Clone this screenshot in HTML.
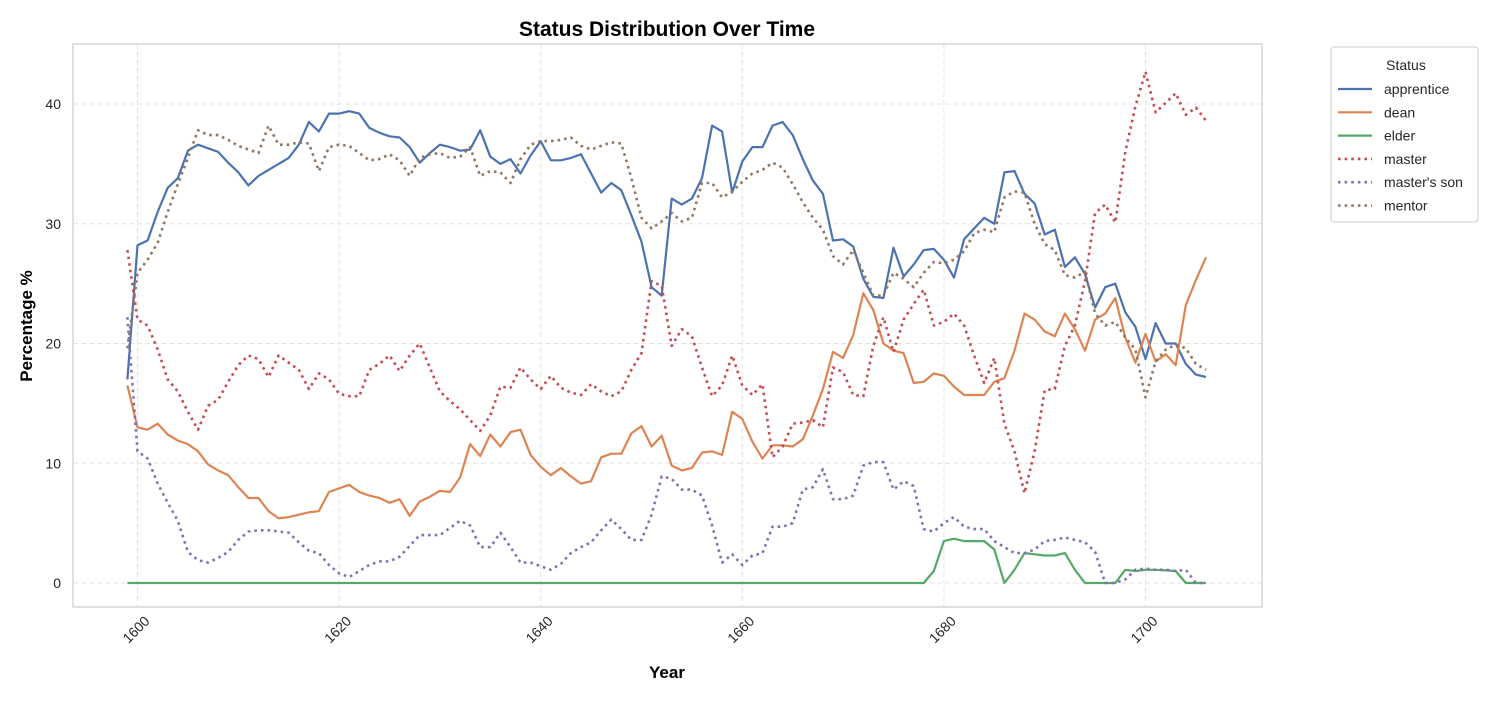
<!DOCTYPE html>
<html><head><meta charset="utf-8"><style>
body{margin:0;background:#fff;}
svg text{font-family:"Liberation Sans","DejaVu Sans",sans-serif;fill:#262626;}
</style></head><body>
<svg id="chart" width="1500" height="700" xmlns="http://www.w3.org/2000/svg">
<rect x="0" y="0" width="1500" height="700" fill="#fff"/>
<text x="667" y="36" text-anchor="middle" font-size="21" font-weight="bold" style="fill:#000">Status Distribution Over Time</text>
<g id="grid"></g>
<g id="axes"></g>
<g id="series"></g>
<rect x="73" y="44" width="1189" height="563" fill="none" stroke="#cccccc" stroke-width="1.2"/>
<text x="667" y="678" text-anchor="middle" font-size="17" font-weight="bold" style="fill:#000">Year</text>
<text transform="translate(32,326) rotate(-90)" text-anchor="middle" font-size="17" font-weight="bold" style="fill:#000">Percentage %</text>
<g id="legend">
<rect x="1331" y="47" width="147" height="175" rx="3" fill="#fff" stroke="#cccccc"/>
<text x="1406" y="70" text-anchor="middle" font-size="14">Status</text>
</g>
</svg>
<script>
const years=[1599,1600,1601,1602,1603,1604,1605,1606,1607,1608,1609,1610,1611,1612,1613,1614,1615,1616,1617,1618,1619,1620,1621,1622,1623,1624,1625,1626,1627,1628,1629,1630,1631,1632,1633,1634,1635,1636,1637,1638,1639,1640,1641,1642,1643,1644,1645,1646,1647,1648,1649,1650,1651,1652,1653,1654,1655,1656,1657,1658,1659,1660,1661,1662,1663,1664,1665,1666,1667,1668,1669,1670,1671,1672,1673,1674,1675,1676,1677,1678,1679,1680,1681,1682,1683,1684,1685,1686,1687,1688,1689,1690,1691,1692,1693,1694,1695,1696,1697,1698,1699,1700,1701,1702,1703,1704,1705,1706];
const apprentice=[17,28.2,28.6,31,33,33.8,36.1,36.6,36.3,36,
35.1,34.3,33.2,34,34.5,35,35.5,36.6,38.5,37.7,
39.2,39.2,39.4,39.2,38,37.6,37.3,37.2,36.4,35.1,
35.9,36.6,36.4,36.1,36.2,37.8,35.6,35,35.4,34.2,
35.7,36.9,35.3,35.3,35.5,35.8,34.2,32.6,33.4,32.8,
30.7,28.5,24.7,24,32.1,31.6,32.1,33.8,38.2,37.7,
32.6,35.2,36.4,36.4,38.2,38.5,37.4,35.4,33.6,32.5,
28.6,28.7,28.1,25.4,23.9,23.8,28,25.6,26.6,27.8,
27.9,27,25.5,28.7,29.6,30.5,30,34.3,34.4,32.5,
31.7,29.1,29.5,26.4,27.2,25.8,23,24.7,25,22.6,
21.4,18.7,21.7,20,20,18.3,17.4,17.2];
const dean=[16.5,13,12.8,13.3,12.4,11.9,11.6,11,9.9,9.4,
9,8,7.1,7.1,6,5.4,5.5,5.7,5.9,6,
7.6,7.9,8.2,7.6,7.3,7.1,6.7,7,5.6,6.8,
7.2,7.7,7.6,8.8,11.6,10.6,12.4,11.4,12.6,12.8,
10.7,9.7,9,9.6,8.9,8.3,8.5,10.5,10.8,10.8,
12.5,13.1,11.4,12.3,9.8,9.4,9.6,10.9,11,10.7,
14.3,13.7,11.8,10.4,11.5,11.5,11.4,12,14,16.2,
19.3,18.8,20.7,24.2,22.8,20,19.4,19.2,16.7,16.8,
17.5,17.3,16.4,15.7,15.7,15.7,16.8,17.1,19.4,22.5,
22,21,20.6,22.5,21.2,19.4,22,22.5,23.8,20.5,
18.4,20.8,18.5,19.1,18.2,23.2,25.3,27.2];
const elder=[0,0,0,0,0,0,0,0,0,0,
0,0,0,0,0,0,0,0,0,0,
0,0,0,0,0,0,0,0,0,0,
0,0,0,0,0,0,0,0,0,0,
0,0,0,0,0,0,0,0,0,0,
0,0,0,0,0,0,0,0,0,0,
0,0,0,0,0,0,0,0,0,0,
0,0,0,0,0,0,0,0,0,0,
1,3.5,3.7,3.5,3.5,3.5,2.8,0,1.1,2.5,
2.4,2.3,2.3,2.5,1.1,0,0,0,0,1.1,
1,1.1,1.1,1.05,1,0,0,0];
const master=[27.8,22,21.5,19.5,17,16,14.3,12.8,14.8,15.3,
16.8,18.2,19,18.7,17.2,19,18.4,17.8,16.2,17.5,
17,15.8,15.6,15.6,17.8,18.3,19,17.7,19,20,
18,16,15.2,14.5,13.6,12.7,14,16.4,16.3,18,
17,16.2,17.3,16.3,15.9,15.7,16.6,16,15.6,16,
17.8,19.2,25.2,24.8,19.8,21.2,20.6,18,15.6,16.5,
19,16.5,15.7,16.6,10.5,11.4,13.3,13.4,13.6,13,
18,17.6,15.7,15.6,19.8,22.2,19.3,22,23.3,24.5,
21.5,21.8,22.5,21.5,19,16.7,18.8,13.3,11,7.5,
11,16.1,16.2,19.8,21.5,25.2,30.9,31.6,30.1,36,
39.8,42.7,39.3,40.1,40.9,39.1,39.7,38.6];
const mastersSon=[22.2,11,10.4,8.3,6.7,5.2,2.6,1.9,1.7,2.1,
2.6,3.6,4.3,4.4,4.4,4.3,4.2,3.4,2.7,2.5,
1.5,0.8,0.5,1,1.5,1.8,1.8,2.2,3.1,4,
4,4,4.6,5.2,4.8,3,3,4.2,3,1.7,
1.7,1.4,1.1,1.6,2.5,3,3.4,4.4,5.3,4.5,
3.6,3.6,5.7,8.9,8.7,7.8,7.8,7.3,4.8,1.7,
2.4,1.5,2.3,2.5,4.7,4.7,5,7.8,8,9.5,
7,7,7.3,9.8,10.1,10.1,7.8,8.5,8.1,4.5,
4.3,5,5.5,4.7,4.5,4.5,3.5,3,2.5,2.5,
2.8,3.5,3.6,3.8,3.6,3.4,2.6,0,0,0.3,
1.1,1.2,1.1,1.1,1,1.1,0,0];
const mentor=[19.6,25.9,27,28.4,31,33.3,35.5,37.8,37.4,37.4,
37,36.5,36.2,35.9,38.2,36.6,36.6,36.8,36.7,34.4,
36.4,36.6,36.5,35.9,35.3,35.4,35.8,35.3,34,35.5,
35.8,35.9,35.5,35.6,36.4,34,34.4,34.3,33.4,35.4,
36.6,36.9,36.9,37,37.2,36.5,36.2,36.5,36.8,36.7,
33.8,30.5,29.6,30.2,30.9,30.2,30.5,33.4,33.4,32.2,
32.7,33.5,34.2,34.5,35.1,34.7,33.3,31.8,30.5,29.5,
27.3,26.6,27.8,25.9,24,24,25.9,25.4,24.7,25.9,
26.8,26.7,27,27.7,29.2,29.5,29.3,32.2,32.7,32.6,
30,28.3,27.8,25.7,25.5,26,22.5,21.5,21.8,20.5,
19.5,15.5,18.5,19.5,19.9,19.6,18.3,17.8];
const xTicks=[1600,1620,1640,1660,1680,1700];
const yTicks=[0,10,20,30,40];
const seriesNames=["apprentice","dean","elder","master","master's son","mentor"];

const NS="http://www.w3.org/2000/svg";
const X=v=>137.5+(v-1600)*10.08;
const Y=v=>583-(v)*11.975;
function mk(tag,attrs,parent){const e=document.createElementNS(NS,tag);for(const k in attrs)e.setAttribute(k,attrs[k]);parent.appendChild(e);return e;}
const grid=document.getElementById('grid'),axes=document.getElementById('axes'),ser=document.getElementById('series'),leg=document.getElementById('legend');
xTicks.forEach(t=>{
 const l=mk('line',{x1:X(t),x2:X(t),y1:44,y2:607,stroke:'#e3e3e3','stroke-dasharray':'5 3','stroke-width':1},grid);
 
 
 const tx=mk('text',{transform:`translate(${X(t)+13},${622}) rotate(-45)`,'text-anchor':'end','font-size':14},axes);
 tx.textContent=t;
 
 
});
yTicks.forEach(t=>{
 const l=mk('line',{x1:73,x2:1262,y1:Y(t),y2:Y(t),stroke:'#e3e3e3','stroke-dasharray':'5 3','stroke-width':1},grid);
 
 
 const tx=mk('text',{x:61,y:Y(t)+5,'text-anchor':'end','font-size':14},axes);
 tx.textContent=t;
 
 
});
const all=[apprentice,dean,elder,master,mastersSon,mentor];
const colors=['#4c72b0','#dd8452','#55a868','#c44e52','#8172b3','#937860'];
const dotted=[false,false,false,true,true,true];
all.forEach((arr,i)=>{
 const d=arr.map((v,j)=>(j?'L':'M')+X(years[j]).toFixed(1)+','+Y(v).toFixed(1)).join('');
 const p=mk('path',{d:d,fill:'none',stroke:colors[i],'stroke-width':dotted[i]?2.6:2.2,'stroke-linejoin':'round'},ser);
 if(dotted[i])p.setAttribute('stroke-dasharray','2.6 4');
 
 
 const ly=89+i*23.3;
 const ll=mk('line',{x1:1338,x2:1372,y1:ly,y2:ly,stroke:colors[i],'stroke-width':dotted[i]?2.6:2.2},leg);
 if(dotted[i])ll.setAttribute('stroke-dasharray','2.6 4');
 
 
 const lt=mk('text',{x:1384,y:ly+5,'font-size':14},leg);
 lt.textContent=seriesNames[i];
 
 
});
</script>
</body></html>
